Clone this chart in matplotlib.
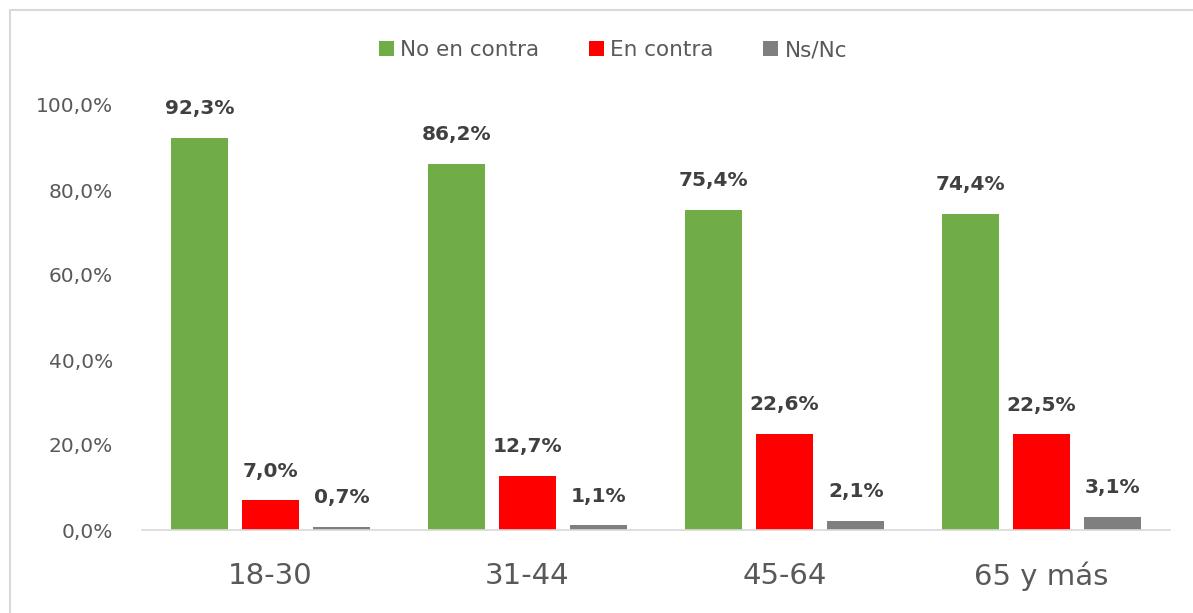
import numpy as np
import matplotlib
matplotlib.use("Agg")
import matplotlib.pyplot as plt
from matplotlib.patches import Rectangle

categories = ["18-30", "31-44", "45-64", "65 y más"]
series_names = ["No en contra", "En contra", "Ns/Nc"]
no_en_contra = [92.3, 86.2, 75.4, 74.4]
en_contra = [7.0, 12.7, 22.6, 22.5]
ns_nc = [0.7, 1.1, 2.1, 3.1]
yticks = [0, 20, 40, 60, 80, 100]

COLORS = ["#70AD47", "#FF0000", "#7F7F7F"]
BAR_W = 0.22
OFFSET = 0.277


def fmt(v):
    return f"{v:.1f}".replace(".", ",") + "%"


fig = plt.figure(figsize=(11.93, 6.13), dpi=100)
ax = fig.add_axes([142 / 1193, 83 / 613, 1028 / 1193, 425 / 613])

x = np.arange(len(categories))
handles = []
for i, (vals, color) in enumerate(zip([no_en_contra, en_contra, ns_nc], COLORS)):
    pos = x + (i - 1) * OFFSET
    bars = ax.bar(pos, vals, width=BAR_W, color=color, label=series_names[i])
    handles.append(bars)
    for px, v in zip(pos, vals):
        ax.annotate(fmt(v), (px, v), xytext=(0, 21), textcoords="offset points",
                    ha="center", va="center", fontsize=14.5, fontweight="bold",
                    color="#404040")

ax.set_xlim(-0.5, len(categories) - 0.5)
ax.set_ylim(0, 100)
ax.set_yticks(yticks)
ax.set_yticklabels([fmt(t) for t in yticks], color="#595959", fontsize=14.5)
ax.set_xticks(x)
ax.set_xticklabels(categories, color="#595959", fontsize=21)
ax.tick_params(axis="y", length=0, pad=21)
ax.tick_params(axis="x", length=0, pad=23)

for side in ["left", "right", "top"]:
    ax.spines[side].set_visible(False)
ax.spines["bottom"].set_color("#D9D9D9")
ax.spines["bottom"].set_linewidth(1.2)

fig.legend(handles=handles, loc="center", bbox_to_anchor=(613 / 1193, 1 - 50 / 613),
           ncol=3, frameon=False, fontsize=15.5, handlelength=0.7, handleheight=0.7,
           handletextpad=0.3, columnspacing=2.3, labelcolor="#595959")

# chart border
fig.patches.append(Rectangle((10 / 1193, -0.05), 1.2, 1 - 10 / 613 + 0.05,
                             transform=fig.transFigure, fill=False,
                             edgecolor="#D9D9D9", linewidth=1.5))

fig.savefig("out.png", dpi=100)
